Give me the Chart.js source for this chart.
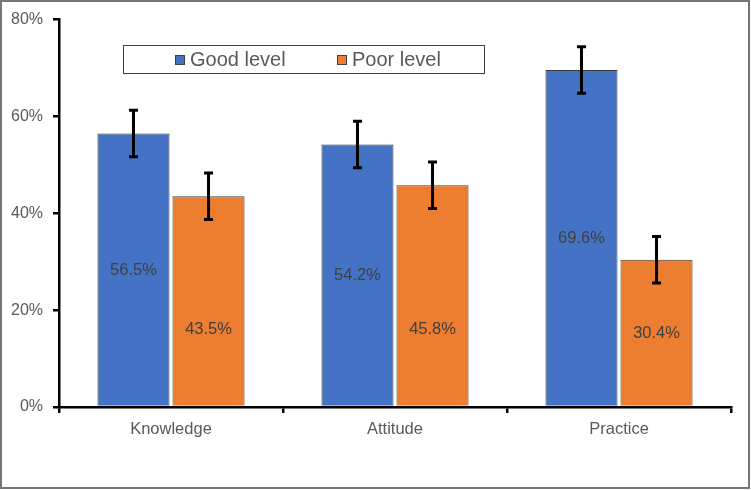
<!DOCTYPE html>
<html>
<head>
<meta charset="utf-8">
<script src="https://cdn.jsdelivr.net/npm/chart.js@4"></script>
<style>
  html, body { margin: 0; padding: 0; background: #fff; }
  #wrap { width: 751px; height: 490px; position: relative; }
</style>
</head>
<body>
<div id="wrap"><canvas id="grafica"></canvas></div>
<script>
const categorias = ["Knowledge", "Attitude", "Practice"];
const nivelBueno = [56.5, 54.2, 69.6];
const nivelMalo = [43.5, 45.8, 30.4];
const errorBueno = [4.8, 4.8, 4.8];
const errorMalo = [4.8, 4.8, 4.8];
const etiquetasSerie = ["Good level", "Poor level"];

const fuente = "'Liberation Sans', Arial, Helvetica, sans-serif";
const gris = "#595959";

// marco exterior
const pluginMarco = {
    id: "marco",
    afterDraw(chart) {
        const ctx = chart.ctx;
        ctx.save();
        ctx.strokeStyle = "#767676";
        ctx.lineWidth = 2;
        ctx.strokeRect(1, 1, chart.width - 3, chart.height - 3);
        ctx.restore();
    }
};

// barras de error
const pluginErrores = {
    id: "errores",
    afterDatasetsDraw(chart) {
        const ctx = chart.ctx;
        const y = chart.scales.y;
        const errores = [errorBueno, errorMalo];
        ctx.save();
        ctx.strokeStyle = "#000";
        ctx.lineWidth = 3;
        chart.data.datasets.forEach((ds, d) => {
            chart.getDatasetMeta(d).data.forEach((barra, i) => {
                const v = ds.data[i];
                const arriba = y.getPixelForValue(v + errores[d][i]);
                const abajo = y.getPixelForValue(v - errores[d][i]);
                ctx.beginPath();
                ctx.moveTo(barra.x, arriba);
                ctx.lineTo(barra.x, abajo);
                ctx.moveTo(barra.x - 4.5, arriba);
                ctx.lineTo(barra.x + 4.5, arriba);
                ctx.moveTo(barra.x - 4.5, abajo);
                ctx.lineTo(barra.x + 4.5, abajo);
                ctx.stroke();
            });
        });
        ctx.restore();
    }
};

// etiquetas de valor dentro de las barras
const pluginEtiquetas = {
    id: "etiquetas",
    afterDatasetsDraw(chart) {
        const ctx = chart.ctx;
        const y = chart.scales.y;
        ctx.save();
        ctx.font = "16.5px " + fuente;
        ctx.fillStyle = "#404040";
        ctx.textAlign = "center";
        ctx.textBaseline = "middle";
        chart.data.datasets.forEach((ds, d) => {
            chart.getDatasetMeta(d).data.forEach((barra, i) => {
                const v = ds.data[i];
                let pos = v / 2;
                if (d === 1) pos = Math.min(v / 2, 16);
                ctx.fillText(v.toFixed(1) + "%", barra.x, y.getPixelForValue(pos));
            });
        });
        ctx.restore();
    }
};

// leyenda con recuadro
const pluginLeyenda = {
    id: "leyenda",
    afterDraw(chart) {
        const ctx = chart.ctx;
        const colores = ["#4472C4", "#ED7D31"];
        const xs = [175, 337];
        ctx.save();
        ctx.fillStyle = "#fff";
        ctx.fillRect(123.5, 45.5, 361, 28);
        ctx.strokeStyle = "#404040";
        ctx.lineWidth = 1;
        ctx.strokeRect(123.5, 45.5, 361, 28);
        ctx.font = "20px " + fuente;
        ctx.textBaseline = "middle";
        etiquetasSerie.forEach((txt, k) => {
            ctx.fillStyle = colores[k];
            ctx.fillRect(xs[k], 55, 10, 10);
            ctx.strokeStyle = "#404040";
            ctx.strokeRect(xs[k] + 0.5, 55.5, 9, 9);
            ctx.fillStyle = gris;
            ctx.fillText(txt, xs[k] + 15, 60);
        });
        ctx.restore();
    }
};

const ctx = document.getElementById("grafica").getContext("2d");

new Chart(ctx, {
    type: "bar",
    data: {
        labels: categorias,
        datasets: [
            {
                label: etiquetasSerie[0],
                data: nivelBueno,
                backgroundColor: "#4472C4",
                borderColor: "#3a3a3a",
                borderWidth: 1,
                categoryPercentage: 0.67,
                barPercentage: 0.96
            },
            {
                label: etiquetasSerie[1],
                data: nivelMalo,
                backgroundColor: "#ED7D31",
                borderColor: "#3a3a3a",
                borderWidth: 1,
                categoryPercentage: 0.67,
                barPercentage: 0.96
            }
        ]
    },
    options: {
        responsive: true,
        maintainAspectRatio: false,
        animation: false,
        layout: { padding: { top: 13, right: 20, bottom: 0, left: 0 } },
        plugins: {
            legend: { display: false },
            tooltip: { enabled: false }
        },
        scales: {
            x: {
                afterFit: (s) => { s.height = 83; },
                border: { color: "#000", width: 2.5 },
                grid: {
                    offset: true,
                    drawOnChartArea: false,
                    drawTicks: true,
                    tickLength: 6,
                    color: "#000",
                    lineWidth: 2.5
                },
                ticks: {
                    color: gris,
                    font: { family: fuente, size: 16.5 },
                    padding: 7
                }
            },
            y: {
                min: 0,
                max: 80,
                afterFit: (s) => { s.width = 59; },
                border: { color: "#000", width: 2.5 },
                grid: {
                    drawOnChartArea: false,
                    drawTicks: true,
                    tickLength: 6,
                    color: "#000",
                    lineWidth: 2.5
                },
                ticks: {
                    stepSize: 20,
                    color: gris,
                    font: { family: fuente, size: 16 },
                    padding: 10,
                    callback: (v) => v + "%"
                }
            }
        }
    },
    plugins: [pluginErrores, pluginEtiquetas, pluginLeyenda, pluginMarco]
});
</script>
</body>
</html>
